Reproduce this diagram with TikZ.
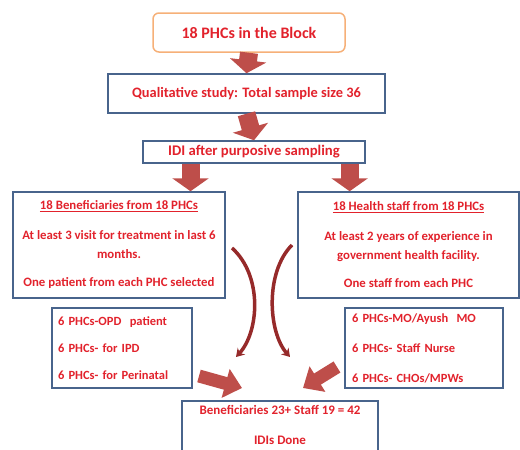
\documentclass[tikz,border=0pt]{standalone}
\usepackage{fontspec}
\setmainfont{Carlito}
\usetikzlibrary{arrows.meta,calc}

\definecolor{txtred}{RGB}{226,34,44}
\definecolor{boxblue}{RGB}{72,100,140}
\definecolor{boxorange}{RGB}{246,176,120}
\definecolor{arrowred}{RGB}{190,78,74}
\definecolor{bentred}{RGB}{150,42,42}

\begin{document}
\begin{tikzpicture}[x=1pt, y=-1pt, >=Stealth]

        \def\fs{12.8}            % font size in the sample boxes
        \def\fc{12.5}            % font size in the category boxes
        \def\shaft{18}           % width of the straight block arrows
        \def\dshaft{13}          % width of the slanted block arrows
        \tikzstyle{box}=[draw=boxblue, line width=1.5pt, fill=white, text=txtred, inner sep=0pt]
        \tikzstyle{fatarrow}=[draw=arrowred, line width=\shaft pt, -{Triangle[length=13pt,width=36pt]}]
        \tikzstyle{slantarrow}=[draw=arrowred, line width=\dshaft pt, -{Triangle[length=17pt,width=29pt]}]
        \tikzstyle{bentarrow}=[draw=bentred, line width=3.5pt, -{Stealth[length=8pt,width=10pt]}]
        \tikzset{fontscale/.style 2 args = {font={\bfseries\fontsize{#1pt}{#2pt}\selectfont}}}

        \useasboundingbox (0,0) rectangle (520,450);

        % Draw the upper chain of boxes
        \node[box, draw=boxorange, rounded corners=6pt, minimum width=192pt, minimum height=39pt, fontscale={16}{18}] (block) at (249,32.5) {18 PHCs in the Block};
        \node[box, minimum width=277pt, minimum height=39pt, fontscale={14.4}{16}] (study) at (246.5,93.5) {Qualitative study: Total sample size 36};
        \node[box, minimum width=222pt, minimum height=22pt, fontscale={14.7}{16}] (idi) at (254,152) {IDI after purposive sampling};

        % Draw the two sample boxes
        \node[box, minimum width=212pt, minimum height=106pt, align=center, fontscale={\fs}{19}] (benef) at (119,245)
            {\underline{18 Beneficiaries from 18 PHCs}\\[11pt]
             At least 3 visit for treatment in last 6\\ months.\\[9pt]
             One patient from each PHC selected};
        \node[box, minimum width=221pt, minimum height=106pt, align=center, fontscale={\fs}{19}] (staff) at (408.5,245)
            {\underline{18 Health staff from 18 PHCs}\\[11pt]
             At least 2 years of experience in\\ government health facility.\\[9pt]
             One staff from each PHC};

        % Draw the category boxes and the final count
        \node[box, minimum width=140pt, minimum height=80pt, align=left, text width=128pt, fontscale={\fc}{27}] (opd) at (122,348)
            {6 PHCs-OPD~ patient\\ 6 PHCs- for IPD\\ 6 PHCs- for Perinatal};
        \node[box, minimum width=158pt, minimum height=80pt, align=left, text width=144pt, fontscale={\fc}{30}] (mo) at (424,348)
            {6 PHCs-MO/Ayush~ MO\\ 6 PHCs- Staff Nurse\\ 6 PHCs- CHOs/MPWs};
        \node[box, anchor=north, minimum width=196pt, inner ysep=5pt, align=center, fontscale={13}{18}] (total) at (280,400)
            {Beneficiaries 23+ Staff 19 = 42\\[12pt] IDIs Done\\[6pt] \mbox{}};

        % Block arrows down the chain
        \foreach \a/\b in {block/study, study/idi}
            \draw[fatarrow] (\a.south) -- (\b.north);
        \coordinate (idi-l) at ($(idi.south west)!0.216!(idi.south east)$);
        \coordinate (idi-r) at ($(idi.south west)!0.928!(idi.south east)$);
        \draw[fatarrow] (idi-l) -- (idi-l |- benef.north);
        \draw[fatarrow] (idi-r) -- (idi-r |- staff.north);

        % Bent arrows between the sample boxes
        \coordinate (bl-s) at (232,248);
        \coordinate (bl-e) at (236,357);
        \coordinate (br-s) at (292,245);
        \coordinate (br-e) at (290,357);
        \draw[bentarrow] (bl-s) .. controls (263,276) and (259,332) .. (bl-e);
        \draw[bentarrow] (br-s) .. controls (265,272) and (268,332) .. (br-e);

        % Slanted arrows into the final count
        \coordinate (sl-s) at (199,376);
        \coordinate (sl-e) at (242,388);
        \coordinate (sr-s) at (337,367);
        \coordinate (sr-e) at (303,388);
        \draw[slantarrow] (sl-s) -- (sl-e);
        \draw[slantarrow] (sr-s) -- (sr-e);

\end{tikzpicture}
\end{document}
